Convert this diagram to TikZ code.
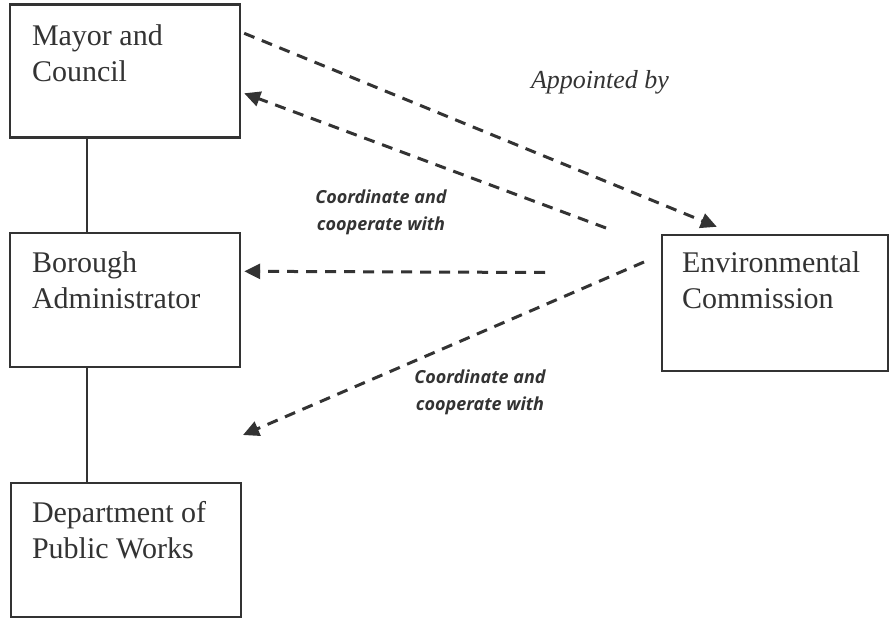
\documentclass[tikz,border=0pt]{standalone}
\usepackage{fontspec}
\setmainfont{Liberation Serif}
\newfontfamily\labfont{Open Sans}
\usetikzlibrary{arrows.meta}
\definecolor{ink}{HTML}{333333}
\begin{document}
\begin{tikzpicture}[x=1pt,y=-1pt,
  box/.style={draw=ink, line width=2.4pt, rectangle, minimum width=230pt, minimum height=133pt, inner sep=0pt},
  boxtext/.style={anchor=base west, align=left, inner sep=0pt, text=ink,
    font=\fontsize{30}{36}\selectfont},
  dasharrow/.style={draw=ink, line width=3pt, dash pattern=on 11pt off 8pt,
    -{Triangle[length=16pt,width=15pt]}},
  conn/.style={draw=ink, line width=2pt},
  italab/.style={text=ink, font=\fontsize{26}{30}\selectfont\itshape},
  coolab/.style={text=ink, align=center, inner sep=0pt,
    font=\labfont\fontsize{18}{27}\selectfont\bfseries\itshape}]
\useasboundingbox (0,0) rectangle (890,620);
\fill[white] (0,0) rectangle (890,620);

\node[box] (mc) at (125,71) {};
\node[box, minimum height=134pt] (ba) at (125,300) {};
\node[box, minimum height=134pt] (dpw) at (126,550) {};
\node[box, minimum width=226pt, minimum height=136pt] (env) at (775,303) {};

\node[boxtext] (mct) at ([shift={(23,78)}]mc.north west) {Mayor and\\Council};
\node[boxtext] (bat) at ([shift={(23,77)}]ba.north west) {Borough\\Administrator};
\node[boxtext] (dpwt) at ([shift={(22,77)}]dpw.north west) {Department of\\Public Works};
\node[boxtext] (envt) at ([shift={(21,75)}]env.north west) {Environmental\\Commission};

\draw[conn] ([xshift=78]mc.south west) -- ([xshift=78]ba.north west);
\draw[conn] ([xshift=78]ba.south west) -- ([xshift=77]dpw.north west);

\coordinate (s2) at (606,228);
\coordinate (s3) at (545,272.5);
\coordinate (s4) at (644,262);
\coordinate (t4) at (243,435);

\draw[dasharrow] ([shift={(3,30)}]mc.north east) -- ([shift={(56,-7)}]env.north west);
\draw[dasharrow] (s2) -- ([shift={(3,90)}]mc.north east);
\draw[dasharrow] (s3) -- ([shift={(3,39.5)}]ba.north east);
\draw[dasharrow] (s4) -- (t4);

\node[italab] (ap) at (600,82) {Appointed by};
\node[coolab] (c1) at (381,212) {Coordinate and\\cooperate with};
\node[coolab] (c2) at (480,392) {Coordinate and\\cooperate with};
\end{tikzpicture}
\end{document}
